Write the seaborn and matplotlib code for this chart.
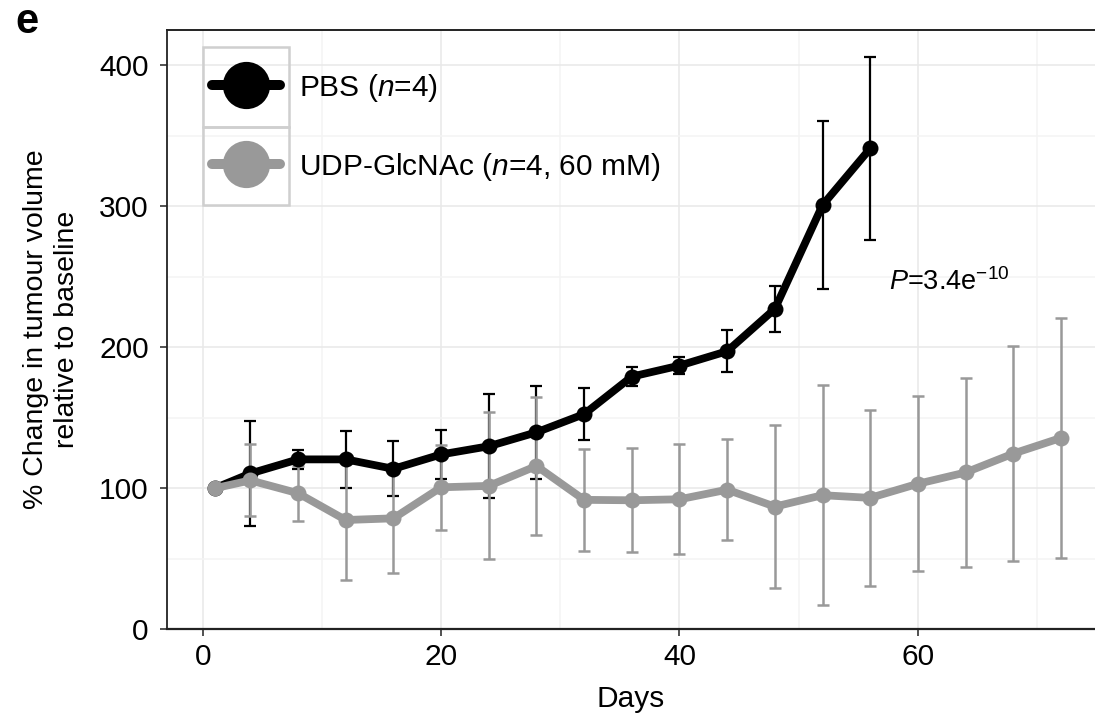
import numpy as np
import pandas as pd
import matplotlib
matplotlib.use("Agg")
import matplotlib.pyplot as plt
from matplotlib.lines import Line2D
from matplotlib.patches import Rectangle
from matplotlib.ticker import MultipleLocator
import seaborn as sns

# ---- data: mean % change in tumour volume and SEM per measurement day ----
days_pbs = [1, 4, 8, 12, 16, 20, 24, 28, 32, 36, 40, 44, 48, 52, 56]
pbs_mean = [100, 110.5, 120.5, 120.5, 113.8, 124, 129.8, 139.7, 152.6,
            179.2, 187, 197.2, 227.2, 300.8, 341]
pbs_sem = [0, 37, 6.7, 20.4, 19.5, 17.4, 36.9, 33.1, 18.3,
           6.8, 5.9, 15, 16.2, 59.8, 65]

days_udp = [1, 4, 8, 12, 16, 20, 24, 28, 32, 36, 40, 44, 48, 52, 56,
            60, 64, 68, 72]
udp_mean = [100, 105.6, 96.5, 77.5, 78.7, 100.7, 101.7, 115.8, 91.8, 91.5,
            92.2, 99, 87, 95.1, 93.2, 103.2, 111.2, 124.6, 135.7]
udp_sem = [0, 25.6, 19.5, 42.5, 38.5, 30, 52.1, 48.7, 36, 37,
           39, 35.9, 58, 78.1, 62.2, 62.2, 67.3, 76.3, 85]

group_names = ["PBS", "UDP-GlcNAc"]
legend_labels = [r"PBS ($\mathit{n}$=4)",
                 r"UDP-GlcNAc ($\mathit{n}$=4, 60 mM)"]
group_colors = {"PBS": "#000000", "UDP-GlcNAc": "#999999"}
p_label = r"$\mathit{P}$=3.4e$^{-10}$"
x_ticks = [0, 20, 40, 60]
y_ticks = [0, 100, 200, 300, 400]

df = pd.concat([
    pd.DataFrame({"day": days_pbs, "value": pbs_mean, "sem": pbs_sem,
                  "group": group_names[0]}),
    pd.DataFrame({"day": days_udp, "value": udp_mean, "sem": udp_sem,
                  "group": group_names[1]}),
], ignore_index=True)

# ---- style ----
sns.set_style("white")
plt.rcParams["font.family"] = ["Liberation Sans", "DejaVu Sans"]
plt.rcParams["mathtext.fontset"] = "custom"
plt.rcParams["mathtext.rm"] = "Liberation Sans"
plt.rcParams["mathtext.it"] = "Liberation Sans:italic"
plt.rcParams["mathtext.default"] = "regular"
plt.rcParams["text.color"] = "black"

FS = 21.5
W, H = 1095, 718
fig = plt.figure(figsize=(W / 100, H / 100), dpi=100)
left_px, right_px, top_px, bottom_px = 166.7, 1095, 30, 629.3
ax = fig.add_axes([left_px / W, (H - bottom_px) / H,
                   (right_px - left_px) / W, (bottom_px - top_px) / H])

# grid: major + lighter minor lines
ax.xaxis.set_major_locator(plt.FixedLocator(x_ticks))
ax.yaxis.set_major_locator(plt.FixedLocator(y_ticks))
ax.xaxis.set_minor_locator(MultipleLocator(10))
ax.yaxis.set_minor_locator(MultipleLocator(50))
ax.grid(which="major", color="#e8e8e8", linewidth=1.1, zorder=0)
ax.grid(which="minor", color="#f4f4f4", linewidth=1.1, zorder=0)
ax.set_axisbelow(True)

# error bars (mean +/- SEM)
for name, lw in zip(group_names, [1.6, 1.8]):
    sub = df[df["group"] == name]
    ax.errorbar(sub["day"], sub["value"], yerr=sub["sem"], fmt="none",
                ecolor=group_colors[name], elinewidth=lw, capsize=4,
                capthick=lw, zorder=2)

# mean trajectories
sns.lineplot(data=df, x="day", y="value", hue="group",
             hue_order=group_names, palette=group_colors, marker="o",
             markersize=11.5, markeredgewidth=0, linewidth=5.6,
             legend=False, ax=ax, zorder=3)

ax.text(57.6, 246, p_label, fontsize=19.5, ha="left", va="center")

ax.set_xlim(-3.02, 74.86)
ax.set_ylim(0, 425)
ax.set_xlabel("Days", fontsize=FS, labelpad=10, color="black")
ax.set_ylabel("% Change in tumour volume\nrelative to baseline",
              fontsize=20.5, labelpad=14, linespacing=1.25, color="black")

for side in ["left", "bottom", "top"]:
    ax.spines[side].set_visible(True)
    ax.spines[side].set_color("#222222")
ax.spines["left"].set_linewidth(1.3)
ax.spines["bottom"].set_linewidth(1.6)
ax.spines["top"].set_linewidth(1.4)
ax.spines["right"].set_visible(False)

ax.tick_params(axis="both", which="major", direction="out", length=5,
               width=1.2, color="#333333", labelsize=FS, pad=5,
               labelcolor="black", bottom=True, left=True)
ax.tick_params(axis="y", which="major", pad=8)
ax.tick_params(which="minor", length=0)

# legend with grey-framed keys
handles = [Line2D([], [], color=group_colors[n], linewidth=7.2, marker="o",
                  markersize=34, markeredgewidth=0) for n in group_names]
leg = ax.legend(handles, legend_labels, loc="upper left",
                bbox_to_anchor=(0.0485, 0.93), frameon=False, fontsize=FS,
                handlelength=2.27, handletextpad=0.64, labelspacing=1.57,
                borderpad=0, borderaxespad=0)
box_x0, box_w = 0.0388, 0.093
for y0, y1 in [(0.8386, 0.9711), (0.708, 0.8386)]:
    ax.add_patch(Rectangle((box_x0, y0), box_w, y1 - y0,
                           transform=ax.transAxes, facecolor="none",
                           edgecolor="#cfcfcf", linewidth=1.8,
                           clip_on=False, zorder=4))

fig.text(15 / W, 1 - 33 / H, "e", fontsize=30, fontweight="bold",
         ha="left", va="baseline")

fig.savefig("out.png", dpi=100)
